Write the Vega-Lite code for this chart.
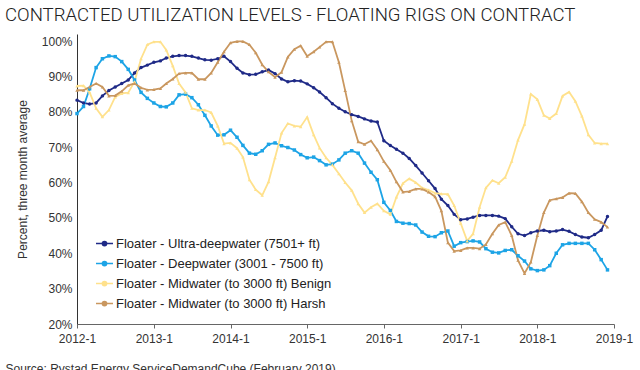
{
  "$schema": "https://vega.github.io/schema/vega-lite/v6.json",
  "width": 537,
  "height": 290,
  "autosize": {"type": "none"},
  "padding": {"left": 77, "top": 34, "right": 26, "bottom": 46},
  "background": "white",
  "title": {
    "text": "CONTRACTED UTILIZATION LEVELS - FLOATING RIGS ON CONTRACT",
    "anchor": "start",
    "frame": "group",
    "dx": -72,
    "dy": 19,
    "offset": 13,
    "baseline": "alphabetic",
    "font": "Roboto",
    "fontWeight": 300,
    "fontSize": 18.6,
    "color": "#222222"
  },
  "config": {
    "view": {"stroke": null},
    "axis": {"grid": false, "labelFont": "Liberation Sans", "titleFont": "Liberation Sans"},
    "legend": {"labelFont": "Liberation Sans"}
  },
  "data": {
    "values": [
      {"d": "2012-01-01", "U": 83.3, "D": 79.5, "B": 87.3, "H": 86.1},
      {"d": "2012-02-01", "U": 82.5, "D": 81.5, "B": 87.4, "H": 86.1},
      {"d": "2012-03-01", "U": 82.2, "D": 86.5, "B": 85.5, "H": 87},
      {"d": "2012-04-01", "U": 82.5, "D": 92.5, "B": 81, "H": 88},
      {"d": "2012-05-01", "U": 84.5, "D": 95, "B": 78.6, "H": 87},
      {"d": "2012-06-01", "U": 86, "D": 95.8, "B": 80.5, "H": 84.5},
      {"d": "2012-07-01", "U": 87, "D": 95.6, "B": 84.2, "H": 84.6},
      {"d": "2012-08-01", "U": 88, "D": 94.2, "B": 85.2, "H": 85.8},
      {"d": "2012-09-01", "U": 89, "D": 92, "B": 85.4, "H": 87.5},
      {"d": "2012-10-01", "U": 91, "D": 89, "B": 88.5, "H": 88},
      {"d": "2012-11-01", "U": 92.5, "D": 85.5, "B": 95, "H": 86.8},
      {"d": "2012-12-01", "U": 93.2, "D": 83.8, "B": 99, "H": 86.2},
      {"d": "2013-01-01", "U": 94, "D": 82.5, "B": 99.8, "H": 86.3},
      {"d": "2013-02-01", "U": 94.4, "D": 81.5, "B": 99.8, "H": 86.6},
      {"d": "2013-03-01", "U": 95.2, "D": 81.4, "B": 97.5, "H": 88},
      {"d": "2013-04-01", "U": 95.7, "D": 82.5, "B": 93, "H": 89.3},
      {"d": "2013-05-01", "U": 95.9, "D": 84.8, "B": 88, "H": 90.8},
      {"d": "2013-06-01", "U": 95.9, "D": 85, "B": 85.5, "H": 91},
      {"d": "2013-07-01", "U": 95.7, "D": 84, "B": 81, "H": 91},
      {"d": "2013-08-01", "U": 95.2, "D": 82, "B": 80.5, "H": 89.2},
      {"d": "2013-09-01", "U": 94.7, "D": 79, "B": 80.5, "H": 89.2},
      {"d": "2013-10-01", "U": 94.6, "D": 76, "B": 79.8, "H": 91},
      {"d": "2013-11-01", "U": 95, "D": 73.4, "B": 76, "H": 94},
      {"d": "2013-12-01", "U": 95.7, "D": 73.5, "B": 71, "H": 97},
      {"d": "2014-01-01", "U": 94.2, "D": 74.8, "B": 71.2, "H": 99.5},
      {"d": "2014-02-01", "U": 92.3, "D": 72.8, "B": 69.7, "H": 99.9},
      {"d": "2014-03-01", "U": 91, "D": 70.5, "B": 67.2, "H": 99.9},
      {"d": "2014-04-01", "U": 90.5, "D": 68.3, "B": 60.8, "H": 99},
      {"d": "2014-05-01", "U": 90.6, "D": 68, "B": 58, "H": 96.7},
      {"d": "2014-06-01", "U": 91.3, "D": 69, "B": 56.4, "H": 93.3},
      {"d": "2014-07-01", "U": 91.8, "D": 70.8, "B": 60.2, "H": 91.3},
      {"d": "2014-08-01", "U": 90.8, "D": 71.2, "B": 67, "H": 89.8},
      {"d": "2014-09-01", "U": 89.3, "D": 70.4, "B": 74, "H": 91.2},
      {"d": "2014-10-01", "U": 88.5, "D": 69.9, "B": 76.7, "H": 95.5},
      {"d": "2014-11-01", "U": 88.8, "D": 69.2, "B": 76, "H": 97.7},
      {"d": "2014-12-01", "U": 88.7, "D": 67.9, "B": 75.8, "H": 98.7},
      {"d": "2015-01-01", "U": 87.9, "D": 67, "B": 78.5, "H": 95.7},
      {"d": "2015-02-01", "U": 86.8, "D": 67.2, "B": 73.5, "H": 97},
      {"d": "2015-03-01", "U": 85.6, "D": 66.2, "B": 69.8, "H": 98.3},
      {"d": "2015-04-01", "U": 84, "D": 65, "B": 67, "H": 99.8},
      {"d": "2015-05-01", "U": 82.3, "D": 65.2, "B": 65, "H": 99.8},
      {"d": "2015-06-01", "U": 81, "D": 66.4, "B": 62.5, "H": 94},
      {"d": "2015-07-01", "U": 80, "D": 68.3, "B": 60, "H": 86},
      {"d": "2015-08-01", "U": 79.2, "D": 69, "B": 57.8, "H": 77.5},
      {"d": "2015-09-01", "U": 78.7, "D": 68.3, "B": 54, "H": 71.5},
      {"d": "2015-10-01", "U": 78, "D": 65.5, "B": 51.5, "H": 70.8},
      {"d": "2015-11-01", "U": 77.4, "D": 62.9, "B": 53, "H": 71.8},
      {"d": "2015-12-01", "U": 77.1, "D": 60.8, "B": 54, "H": 69.3},
      {"d": "2016-01-01", "U": 71.8, "D": 54.4, "B": 52, "H": 66},
      {"d": "2016-02-01", "U": 70.5, "D": 52.1, "B": 51, "H": 63.5},
      {"d": "2016-03-01", "U": 69.4, "D": 49, "B": 55.9, "H": 60.2},
      {"d": "2016-04-01", "U": 68.3, "D": 48.5, "B": 59.8, "H": 57.3},
      {"d": "2016-05-01", "U": 66.8, "D": 48.4, "B": 61.1, "H": 57.5},
      {"d": "2016-06-01", "U": 64.8, "D": 48, "B": 60, "H": 58.2},
      {"d": "2016-07-01", "U": 62.7, "D": 46, "B": 58.5, "H": 58.2},
      {"d": "2016-08-01", "U": 60.5, "D": 44.8, "B": 57.9, "H": 57.3},
      {"d": "2016-09-01", "U": 58.3, "D": 44.7, "B": 57, "H": 56},
      {"d": "2016-10-01", "U": 55.3, "D": 45.8, "B": 56.8, "H": 52},
      {"d": "2016-11-01", "U": 53.5, "D": 46.3, "B": 56.7, "H": 43},
      {"d": "2016-12-01", "U": 51, "D": 42, "B": 53.5, "H": 40.6},
      {"d": "2017-01-01", "U": 49.5, "D": 43, "B": 48.5, "H": 40.8},
      {"d": "2017-02-01", "U": 49.7, "D": 43.3, "B": 43.5, "H": 41.5},
      {"d": "2017-03-01", "U": 50.2, "D": 43.5, "B": 45.5, "H": 41.5},
      {"d": "2017-04-01", "U": 50.7, "D": 43.2, "B": 53, "H": 41.3},
      {"d": "2017-05-01", "U": 50.7, "D": 41.3, "B": 58.5, "H": 42.5},
      {"d": "2017-06-01", "U": 50.7, "D": 40.3, "B": 60.6, "H": 45.5},
      {"d": "2017-07-01", "U": 50.5, "D": 40.1, "B": 59.8, "H": 48},
      {"d": "2017-08-01", "U": 49.8, "D": 40.8, "B": 61.5, "H": 48.8},
      {"d": "2017-09-01", "U": 47.5, "D": 41, "B": 66, "H": 45},
      {"d": "2017-10-01", "U": 45.5, "D": 39.3, "B": 72, "H": 38},
      {"d": "2017-11-01", "U": 45, "D": 37.8, "B": 76.5, "H": 34.3},
      {"d": "2017-12-01", "U": 45.8, "D": 35.6, "B": 85, "H": 37.5},
      {"d": "2018-01-01", "U": 46.3, "D": 35.1, "B": 83.5, "H": 45},
      {"d": "2018-02-01", "U": 46.5, "D": 35.3, "B": 79, "H": 51.5},
      {"d": "2018-03-01", "U": 46.1, "D": 36.5, "B": 78.1, "H": 55},
      {"d": "2018-04-01", "U": 46.3, "D": 40, "B": 79.5, "H": 55.4},
      {"d": "2018-05-01", "U": 46.7, "D": 42.4, "B": 84.5, "H": 55.8},
      {"d": "2018-06-01", "U": 46.2, "D": 42.8, "B": 85.6, "H": 57},
      {"d": "2018-07-01", "U": 45.3, "D": 42.8, "B": 83, "H": 56.9},
      {"d": "2018-08-01", "U": 44.6, "D": 42.8, "B": 78.8, "H": 54.6},
      {"d": "2018-09-01", "U": 44.4, "D": 42.8, "B": 73.5, "H": 51.5},
      {"d": "2018-10-01", "U": 45.3, "D": 41, "B": 71.2, "H": 49.6},
      {"d": "2018-11-01", "U": 46.5, "D": 38.2, "B": 71, "H": 48.8},
      {"d": "2018-12-01", "U": 50.4, "D": 35.3, "B": 71, "H": 47.4}
    ]
  },
  "transform": [{"fold": ["U", "D", "B", "H"], "as": ["series", "value"]}],
  "encoding": {
    "x": {
      "field": "d",
      "type": "temporal",
      "scale": {"domain": [{"year": 2012, "month": 1, "date": 1}, {"year": 2019, "month": 1, "date": 1}]},
      "axis": {
        "values": [
          {"year": 2012, "month": 1, "date": 1}, {"year": 2013, "month": 1, "date": 1},
          {"year": 2014, "month": 1, "date": 1}, {"year": 2015, "month": 1, "date": 1},
          {"year": 2016, "month": 1, "date": 1}, {"year": 2017, "month": 1, "date": 1},
          {"year": 2018, "month": 1, "date": 1}, {"year": 2019, "month": 1, "date": 1}
        ],
        "format": "%Y-%-m",
        "labelFontSize": 12,
        "labelColor": "#333333",
        "labelPadding": 5,
        "labelFlush": false,
        "labelOverlap": false,
        "domainColor": "#666666",
        "tickColor": "#666666",
        "tickSize": 4,
        "title": "Source: Rystad Energy ServiceDemandCube (February 2019)",
        "titleAnchor": "start",
        "titleAlign": "left",
        "titleX": -72,
        "titleY": 48,
        "titleBaseline": "alphabetic",
        "titleFontSize": 12,
        "titleFontWeight": "normal",
        "titleColor": "#333333"
      }
    },
    "y": {
      "field": "value",
      "type": "quantitative",
      "scale": {"domain": [20, 102], "nice": false},
      "axis": {
        "values": [20, 30, 40, 50, 60, 70, 80, 90, 100],
        "labelExpr": "datum.value + '%'",
        "labelFontSize": 12,
        "labelColor": "#333333",
        "labelPadding": 5,
        "ticks": false,
        "domainColor": "#333333",
        "title": "Percent, three month average",
        "titleX": -55,
        "titleBaseline": "middle",
        "titleFontSize": 12,
        "titleFontWeight": "normal",
        "titleColor": "#333333"
      }
    },
    "color": {
      "field": "series",
      "type": "nominal",
      "scale": {"domain": ["U", "D", "B", "H"], "range": ["#1F2A87", "#1DA4E6", "#FFE18C", "#C9975F"]},
      "legend": {
        "orient": "none",
        "legendX": 18,
        "legendY": 200,
        "title": null,
        "padding": 0,
        "symbolType": "M-1,0H1M-0.25,0A0.25,0.25,0,1,1,0.25,0A0.25,0.25,0,1,1,-0.25,0Z",
        "symbolSize": 289,
        "symbolStrokeWidth": 1.5,
        "labelFontSize": 13,
        "labelColor": "#222222",
        "labelOffset": 2,
        "labelLimit": 0,
        "rowPadding": 3,
        "labelExpr": "datum.label == 'U' ? 'Floater - Ultra-deepwater (7501+ ft)' : datum.label == 'D' ? 'Floater - Deepwater (3001 - 7500 ft)' : datum.label == 'B' ? 'Floater - Midwater (to 3000 ft) Benign' : 'Floater - Midwater (to 3000 ft) Harsh'",
        "encode": {
          "symbols": {
            "update": {
              "stroke": {"scale": "color", "field": "value"},
              "fill": {"scale": "color", "field": "value"},
              "strokeWidth": {"value": 1.5},
              "opacity": {"value": 1}
            }
          }
        }
      }
    }
  },
  "layer": [
    {
      "mark": {"type": "line", "strokeWidth": 1.8}
    },
    {
      "transform": [{"filter": {"field": "series", "equal": "U"}}],
      "mark": {"type": "point", "shape": "circle", "filled": true, "size": 12, "opacity": 1}
    },
    {
      "transform": [{"filter": {"field": "series", "equal": "D"}}],
      "mark": {"type": "point", "shape": "square", "filled": true, "size": 12, "opacity": 1}
    },
    {
      "transform": [{"filter": {"field": "series", "oneOf": ["B", "H"]}}],
      "mark": {"type": "point", "shape": "triangle-up", "filled": true, "size": 12, "opacity": 1}
    }
  ]
}
